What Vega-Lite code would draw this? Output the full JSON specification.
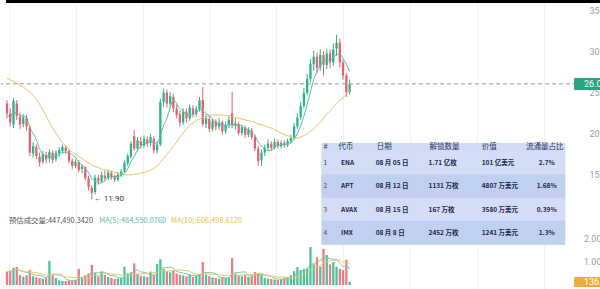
{
"$schema":"https://vega.github.io/schema/vega-lite/v6.json",
"width":583,"height":289,"padding":0,"autosize":{"type":"pad"},"background":"#ffffff",
"config":{"view":{"stroke":null},"axis":{"labelFont":"Roboto"}},
"datasets":{
"candles":[
{"i":0,"o":23.6,"h":24.0,"l":21.8,"c":22.4,"v":580000,"ma20":26.7},
{"i":1,"o":22.4,"h":23.0,"l":20.8,"c":21.3,"v":620000,"ma20":26.5},
{"i":2,"o":21.0,"h":24.3,"l":20.6,"c":23.9,"v":750000,"ma20":26.3},
{"i":3,"o":23.6,"h":24.0,"l":21.6,"c":22.1,"v":780000,"ma20":26.1},
{"i":4,"o":22.0,"h":22.5,"l":20.5,"c":21.0,"v":430000,"ma20":25.8},
{"i":5,"o":21.1,"h":22.3,"l":20.7,"c":21.9,"v":360000,"ma20":25.6},
{"i":6,"o":21.8,"h":22.2,"l":20.3,"c":20.8,"v":420000,"ma20":25.3},
{"i":7,"o":20.7,"h":21.0,"l":17.2,"c":17.6,"v":650000,"ma20":25.0},
{"i":8,"o":17.5,"h":18.9,"l":17.0,"c":18.4,"v":380000,"ma20":24.6},
{"i":9,"o":18.3,"h":18.6,"l":16.8,"c":17.2,"v":340000,"ma20":24.1},
{"i":10,"o":17.1,"h":17.6,"l":15.9,"c":16.4,"v":300000,"ma20":23.5},
{"i":11,"o":16.5,"h":17.8,"l":16.2,"c":17.4,"v":280000,"ma20":22.8},
{"i":12,"o":17.3,"h":17.7,"l":16.3,"c":16.8,"v":330000,"ma20":22.1},
{"i":13,"o":16.9,"h":18.0,"l":16.4,"c":17.7,"v":1040000,"ma20":21.3},
{"i":14,"o":17.6,"h":17.9,"l":16.3,"c":16.7,"v":420000,"ma20":20.6},
{"i":15,"o":16.8,"h":17.9,"l":16.5,"c":17.6,"v":300000,"ma20":20.0},
{"i":16,"o":17.5,"h":18.3,"l":17.1,"c":17.9,"v":200000,"ma20":19.4},
{"i":17,"o":17.8,"h":18.6,"l":17.5,"c":18.3,"v":180000,"ma20":18.8},
{"i":18,"o":18.2,"h":18.5,"l":17.4,"c":17.8,"v":170000,"ma20":18.4},
{"i":19,"o":17.8,"h":18.0,"l":16.3,"c":16.6,"v":200000,"ma20":18.0},
{"i":20,"o":16.6,"h":16.9,"l":15.6,"c":16.0,"v":190000,"ma20":17.7},
{"i":21,"o":16.0,"h":16.8,"l":15.7,"c":16.5,"v":230000,"ma20":17.4},
{"i":22,"o":16.4,"h":16.7,"l":15.2,"c":15.5,"v":700000,"ma20":17.1},
{"i":23,"o":15.6,"h":16.2,"l":15.1,"c":15.9,"v":300000,"ma20":16.9},
{"i":24,"o":15.8,"h":16.0,"l":14.2,"c":14.5,"v":420000,"ma20":16.6},
{"i":25,"o":14.5,"h":14.8,"l":13.0,"c":13.4,"v":500000,"ma20":16.4},
{"i":26,"o":13.3,"h":13.6,"l":11.9,"c":12.7,"v":870000,"ma20":16.1},
{"i":27,"o":12.8,"h":14.9,"l":12.5,"c":14.6,"v":520000,"ma20":15.9},
{"i":28,"o":14.5,"h":14.9,"l":13.7,"c":14.1,"v":380000,"ma20":15.8},
{"i":29,"o":14.1,"h":15.3,"l":13.9,"c":14.9,"v":580000,"ma20":15.6},
{"i":30,"o":14.8,"h":15.4,"l":14.2,"c":14.5,"v":430000,"ma20":15.5},
{"i":31,"o":14.5,"h":15.5,"l":14.3,"c":15.2,"v":350000,"ma20":15.4},
{"i":32,"o":15.1,"h":15.4,"l":14.3,"c":14.6,"v":300000,"ma20":15.3},
{"i":33,"o":14.6,"h":14.9,"l":14.0,"c":14.3,"v":260000,"ma20":15.2},
{"i":34,"o":14.3,"h":15.2,"l":14.1,"c":14.9,"v":280000,"ma20":15.1},
{"i":35,"o":14.9,"h":15.6,"l":14.6,"c":15.3,"v":320000,"ma20":15.0},
{"i":36,"o":15.3,"h":16.7,"l":15.1,"c":16.4,"v":800000,"ma20":14.9},
{"i":37,"o":16.3,"h":17.5,"l":16.0,"c":17.2,"v":500000,"ma20":14.9},
{"i":38,"o":17.1,"h":19.0,"l":16.9,"c":18.7,"v":550000,"ma20":14.9},
{"i":39,"o":19.6,"h":20.4,"l":17.8,"c":18.1,"v":940000,"ma20":15.0},
{"i":40,"o":18.1,"h":19.5,"l":17.8,"c":19.1,"v":480000,"ma20":15.0},
{"i":41,"o":19.0,"h":19.5,"l":18.1,"c":18.5,"v":400000,"ma20":15.1},
{"i":42,"o":18.5,"h":19.7,"l":18.2,"c":19.3,"v":380000,"ma20":15.2},
{"i":43,"o":19.2,"h":19.6,"l":18.3,"c":18.7,"v":350000,"ma20":15.3},
{"i":44,"o":18.8,"h":19.9,"l":18.4,"c":19.5,"v":580000,"ma20":15.5},
{"i":45,"o":19.3,"h":19.6,"l":17.5,"c":17.9,"v":450000,"ma20":15.7},
{"i":46,"o":17.9,"h":19.0,"l":17.5,"c":18.6,"v":910000,"ma20":16.0},
{"i":47,"o":18.6,"h":24.2,"l":18.4,"c":23.8,"v":1120000,"ma20":16.4},
{"i":48,"o":23.8,"h":25.4,"l":23.2,"c":24.9,"v":700000,"ma20":16.9},
{"i":49,"o":24.9,"h":25.3,"l":23.1,"c":23.6,"v":600000,"ma20":17.4},
{"i":50,"o":23.6,"h":25.0,"l":23.0,"c":24.5,"v":550000,"ma20":17.9},
{"i":51,"o":24.4,"h":24.8,"l":22.5,"c":23.0,"v":650000,"ma20":18.4},
{"i":52,"o":23.0,"h":23.5,"l":21.8,"c":22.2,"v":500000,"ma20":18.9},
{"i":53,"o":22.3,"h":22.7,"l":20.8,"c":21.3,"v":450000,"ma20":19.5},
{"i":54,"o":21.3,"h":23.0,"l":21.0,"c":22.6,"v":420000,"ma20":20.0},
{"i":55,"o":22.6,"h":23.0,"l":21.3,"c":21.8,"v":380000,"ma20":20.5},
{"i":56,"o":21.8,"h":23.5,"l":21.5,"c":23.1,"v":460000,"ma20":20.9},
{"i":57,"o":23.0,"h":23.4,"l":21.9,"c":22.3,"v":350000,"ma20":21.2},
{"i":58,"o":22.3,"h":23.3,"l":22.0,"c":22.9,"v":400000,"ma20":21.5},
{"i":59,"o":22.9,"h":24.4,"l":22.6,"c":24.0,"v":480000,"ma20":21.7},
{"i":60,"o":24.0,"h":25.6,"l":20.8,"c":21.1,"v":1000000,"ma20":21.9},
{"i":61,"o":21.1,"h":22.3,"l":20.6,"c":21.8,"v":450000,"ma20":22.0},
{"i":62,"o":21.7,"h":22.0,"l":20.1,"c":20.5,"v":380000,"ma20":22.1},
{"i":63,"o":20.5,"h":21.8,"l":20.2,"c":21.4,"v":330000,"ma20":22.2},
{"i":64,"o":21.4,"h":21.7,"l":20.3,"c":20.8,"v":300000,"ma20":22.2},
{"i":65,"o":20.8,"h":21.8,"l":20.4,"c":21.3,"v":280000,"ma20":22.2},
{"i":66,"o":21.3,"h":21.5,"l":19.8,"c":20.2,"v":320000,"ma20":22.2},
{"i":67,"o":20.2,"h":21.4,"l":19.9,"c":21.0,"v":300000,"ma20":22.1},
{"i":68,"o":21.0,"h":22.0,"l":20.6,"c":21.6,"v":350000,"ma20":22.1},
{"i":69,"o":22.4,"h":25.0,"l":20.6,"c":20.9,"v":1170000,"ma20":22.0},
{"i":70,"o":20.9,"h":21.8,"l":20.4,"c":21.2,"v":500000,"ma20":21.9},
{"i":71,"o":21.1,"h":21.4,"l":19.7,"c":20.0,"v":400000,"ma20":21.8},
{"i":72,"o":20.0,"h":21.0,"l":19.7,"c":20.7,"v":380000,"ma20":21.7},
{"i":73,"o":20.6,"h":20.9,"l":19.4,"c":19.8,"v":430000,"ma20":21.6},
{"i":74,"o":19.8,"h":20.7,"l":19.5,"c":20.4,"v":350000,"ma20":21.5},
{"i":75,"o":20.3,"h":20.6,"l":19.2,"c":19.5,"v":400000,"ma20":21.4},
{"i":76,"o":19.5,"h":19.8,"l":17.8,"c":18.1,"v":570000,"ma20":21.3},
{"i":77,"o":18.1,"h":18.4,"l":16.0,"c":16.6,"v":500000,"ma20":21.1},
{"i":78,"o":16.7,"h":18.0,"l":16.0,"c":17.6,"v":450000,"ma20":21.0},
{"i":79,"o":17.6,"h":18.6,"l":17.2,"c":18.2,"v":300000,"ma20":20.9},
{"i":80,"o":18.2,"h":19.2,"l":17.9,"c":18.7,"v":280000,"ma20":20.7},
{"i":81,"o":18.7,"h":19.0,"l":17.9,"c":18.2,"v":260000,"ma20":20.6},
{"i":82,"o":18.2,"h":19.3,"l":18.0,"c":18.9,"v":240000,"ma20":20.4},
{"i":83,"o":18.9,"h":19.2,"l":18.1,"c":18.4,"v":220000,"ma20":20.2},
{"i":84,"o":18.4,"h":19.1,"l":18.1,"c":18.8,"v":250000,"ma20":20.0},
{"i":85,"o":18.8,"h":19.1,"l":18.2,"c":18.5,"v":300000,"ma20":19.8},
{"i":86,"o":18.5,"h":19.3,"l":18.3,"c":19.0,"v":350000,"ma20":19.7},
{"i":87,"o":19.0,"h":19.8,"l":18.7,"c":19.4,"v":420000,"ma20":19.5},
{"i":88,"o":19.4,"h":21.2,"l":19.2,"c":20.8,"v":600000,"ma20":19.4},
{"i":89,"o":20.8,"h":22.4,"l":20.5,"c":21.9,"v":780000,"ma20":19.4},
{"i":90,"o":21.9,"h":23.8,"l":21.6,"c":23.3,"v":650000,"ma20":19.5},
{"i":91,"o":23.3,"h":25.5,"l":23.0,"c":24.9,"v":700000,"ma20":19.7},
{"i":92,"o":24.9,"h":27.2,"l":24.6,"c":26.6,"v":720000,"ma20":19.9},
{"i":93,"o":26.6,"h":29.0,"l":26.2,"c":28.4,"v":1650000,"ma20":20.2},
{"i":94,"o":28.4,"h":30.0,"l":27.6,"c":29.3,"v":900000,"ma20":20.5},
{"i":95,"o":29.3,"h":29.8,"l":27.3,"c":28.0,"v":1200000,"ma20":20.9},
{"i":96,"o":28.0,"h":30.2,"l":27.6,"c":29.5,"v":800000,"ma20":21.3},
{"i":97,"o":29.5,"h":30.0,"l":27.0,"c":28.3,"v":1570000,"ma20":21.8},
{"i":98,"o":28.3,"h":30.3,"l":27.8,"c":29.7,"v":1300000,"ma20":22.3},
{"i":99,"o":29.7,"h":30.2,"l":27.9,"c":28.6,"v":900000,"ma20":22.7},
{"i":100,"o":28.6,"h":30.9,"l":28.2,"c":30.2,"v":1000000,"ma20":23.2},
{"i":101,"o":30.3,"h":32.0,"l":29.4,"c":31.0,"v":800000,"ma20":23.6},
{"i":102,"o":31.0,"h":31.5,"l":28.0,"c":28.6,"v":700000,"ma20":24.0},
{"i":103,"o":28.6,"h":29.0,"l":26.5,"c":27.0,"v":650000,"ma20":24.3},
{"i":104,"o":27.0,"h":27.3,"l":24.4,"c":25.0,"v":1100000,"ma20":24.7},
{"i":105,"o":25.0,"h":26.5,"l":24.7,"c":26.0,"v":136900,"ma20":25.2}
],
"table":[
{"row":1,"token":"ENA","date":"08 月 05 日","amount":"1.71 亿枚","value":"101 亿美元","pct":"2.7%"},
{"row":2,"token":"APT","date":"08 月 12 日","amount":"1131 万枚","value":"4807 万美元","pct":"1.68%"},
{"row":3,"token":"AVAX","date":"08 月 15 日","amount":"167 万枚","value":"3580 万美元","pct":"0.39%"},
{"row":4,"token":"IMX","date":"08 月 8 日","amount":"2452 万枚","value":"1241 万美元","pct":"1.3%"}
],
"last":[{"price":26.0,"vol":136900,"volLabel":"136.90K"}],
"vlabels":[{"v":1000000,"t":"1.00M"},{"v":2000000,"t":"2.00M"}],
"low":[{"i":26,"low":11.9,"label":"← 11.90"}]
},
"layer":[
{"data":{"name":"candles"},
 "layer":[
  {"mark":{"type":"rule","strokeWidth":1},
   "encoding":{
    "x":{"field":"i","type":"quantitative","scale":{"domain":[-0.3,175.3],"nice":false,"zero":false},"axis":{"values":[0.6,21.1,41.6,62.1,82.5,103,123.5,144,164.5],"grid":true,"gridColor":"#f2f2f2","gridWidth":1,"labels":false,"ticks":false,"domain":false,"title":null}},
    "y":{"field":"l","type":"quantitative","scale":{"domain":[0.976,36.22],"nice":false,"zero":false},"axis":{"orient":"right","values":[15,20,25,30,35],"format":".2f","labelColor":"#9e9e9e","labelFontSize":9,"labelPadding":5,"ticks":false,"domain":false,"grid":false,"title":null}},
    "y2":{"field":"h"},
    "color":{"condition":{"test":"datum.c >= datum.o","value":"#2db389"},"value":"#e0636d"}}},
  {"mark":{"type":"bar","size":2.3},
   "encoding":{
    "x":{"field":"i","type":"quantitative"},
    "y":{"field":"o","type":"quantitative"},
    "y2":{"field":"c"},
    "color":{"condition":{"test":"datum.c >= datum.o","value":"#2db389"},"value":"#e0636d"}}},
  {"mark":{"type":"line","color":"#e6c36a","strokeWidth":1,"interpolate":"monotone"},
   "encoding":{"x":{"field":"i","type":"quantitative"},"y":{"field":"ma20","type":"quantitative"}}},
  {"transform":[{"window":[{"op":"mean","field":"c","as":"ma5"}],"frame":[-4,0],"sort":[{"field":"i"}]}],
   "mark":{"type":"line","color":"#55c0ae","strokeWidth":1,"interpolate":"monotone"},
   "encoding":{"x":{"field":"i","type":"quantitative"},"y":{"field":"ma5","type":"quantitative"}}},
  {"data":{"name":"last"},"mark":{"type":"rule","strokeDash":[4,3],"color":"#9a9a9a","strokeWidth":1},
   "encoding":{"y":{"field":"price","type":"quantitative"}}},
  {"data":{"name":"last"},"mark":{"type":"rect","color":"#27a57d"},
   "encoding":{"x":{"datum":173.8,"type":"quantitative"},"x2":{"datum":190},"y":{"datum":26.71,"type":"quantitative"},"y2":{"datum":25.24}}},
  {"data":{"name":"last"},"mark":{"type":"text","align":"left","baseline":"middle","color":"#ffffff","fontSize":9,"font":"Roboto"},
   "encoding":{"x":{"datum":176.8,"type":"quantitative"},"y":{"field":"price","type":"quantitative"},"text":{"field":"price","type":"quantitative","format":".2f"}}},
  {"data":{"name":"last"},"mark":{"type":"rect","color":"#000000"},
   "encoding":{"x":{"datum":-0.3,"type":"quantitative"},"x2":{"datum":190},"y":{"datum":36.22,"type":"quantitative"},"y2":{"datum":35.86}}},
  {"data":{"name":"low"},"mark":{"type":"text","align":"left","baseline":"middle","dx":2,"fontSize":8,"color":"#333333","font":"Roboto"},
   "encoding":{"x":{"field":"i","type":"quantitative"},"y":{"field":"low","type":"quantitative"},"text":{"field":"label"}}},
  {"data":{"name":"last"},"mark":{"type":"text","align":"left","baseline":"middle","fontSize":7.4,"color":"#555555","font":"Noto Sans CJK SC"},
   "encoding":{"x":{"datum":0.6,"type":"quantitative"},"y":{"datum":9.27,"type":"quantitative"},"text":{"value":"预估成交量:447,490.3420"}}},
  {"data":{"name":"last"},"mark":{"type":"text","align":"left","baseline":"middle","fontSize":7.4,"color":"#5cc0a9","font":"Noto Sans CJK SC"},
   "encoding":{"x":{"datum":28.3,"type":"quantitative"},"y":{"datum":9.27,"type":"quantitative"},"text":{"value":"MA(5):484,550.0760"}}},
  {"data":{"name":"last"},"mark":{"type":"text","align":"left","baseline":"middle","fontSize":7.4,"color":"#e8bd4a","font":"Noto Sans CJK SC"},
   "encoding":{"x":{"datum":50.3,"type":"quantitative"},"y":{"datum":9.27,"type":"quantitative"},"text":{"value":"MA(10):606,498.6120"}}}
 ]},
{"data":{"name":"candles"},
 "layer":[
  {"mark":{"type":"bar","size":2.3,"opacity":0.9},
   "encoding":{
    "x":{"field":"i","type":"quantitative"},
    "y":{"field":"v","type":"quantitative","scale":{"domain":[-173913,12391304],"nice":false,"zero":false},"axis":null},
    "y2":{"datum":0},
    "color":{"condition":{"test":"datum.c >= datum.o","value":"#3bb993"},"value":"#e4707a"}}},
  {"transform":[{"window":[{"op":"mean","field":"v","as":"vma5"}],"frame":[-4,0],"sort":[{"field":"i"}]}],
   "mark":{"type":"line","color":"#7cc9a0","strokeWidth":1,"interpolate":"monotone"},
   "encoding":{"x":{"field":"i","type":"quantitative"},"y":{"field":"vma5","type":"quantitative","axis":null}}},
  {"transform":[{"window":[{"op":"mean","field":"v","as":"vma10"}],"frame":[-9,0],"sort":[{"field":"i"}]}],
   "mark":{"type":"line","color":"#e6c66e","strokeWidth":1,"interpolate":"monotone"},
   "encoding":{"x":{"field":"i","type":"quantitative"},"y":{"field":"vma10","type":"quantitative","axis":null}}},
  {"data":{"name":"vlabels"},"mark":{"type":"text","align":"left","baseline":"middle","fontSize":9,"color":"#9e9e9e","font":"Roboto"},
   "encoding":{"x":{"datum":176.8,"type":"quantitative"},"y":{"field":"v","type":"quantitative","axis":null},"text":{"field":"t"}}},
  {"data":{"name":"last"},"mark":{"type":"rect","color":"#f2a93b"},
   "encoding":{"x":{"datum":173.8,"type":"quantitative"},"x2":{"datum":190},"y":{"datum":348000,"type":"quantitative","axis":null},"y2":{"datum":-87000}}},
  {"data":{"name":"last"},"mark":{"type":"text","align":"left","baseline":"middle","color":"#ffffff","fontSize":9,"font":"Roboto"},
   "encoding":{"x":{"datum":176.8,"type":"quantitative"},"y":{"field":"vol","type":"quantitative","axis":null},"text":{"field":"volLabel"}}}
 ]},
{"data":{"name":"table"},
 "layer":[
  {"data":{"name":"last"},"mark":{"type":"rect","color":"#d0dbf4"},
   "encoding":{"x":{"datum":96.4,"type":"quantitative"},"x2":{"datum":171.1},
    "y":{"datum":0.125,"type":"quantitative","scale":{"domain":[-5.833,6.208],"reverse":true,"nice":false,"zero":false},"axis":null},"y2":{"datum":4.5}}},
  {"mark":{"type":"bar","orient":"horizontal","size":24},
   "encoding":{"x":{"datum":96.4,"type":"quantitative"},"x2":{"datum":171.1},
    "y":{"field":"row","type":"quantitative","axis":null},
    "color":{"field":"row","type":"ordinal","scale":{"domain":[1,2,3,4],"range":["#d3ddf5","#c1cff0","#d3ddf5","#c1cff0"]},"legend":null}}},
  {"data":{"name":"last"},"mark":{"type":"text","align":"left","baseline":"middle","fontSize":7.5,"color":"#2b3a67","font":"Noto Sans CJK SC"},
   "encoding":{"x":{"datum":97.0,"type":"quantitative"},"y":{"datum":0.29,"type":"quantitative","axis":null},"text":{"value":"#"}}},
  {"data":{"name":"last"},"mark":{"type":"text","align":"left","baseline":"middle","fontSize":7.5,"color":"#2b3a67","font":"Noto Sans CJK SC"},
   "encoding":{"x":{"datum":101.5,"type":"quantitative"},"y":{"datum":0.29,"type":"quantitative","axis":null},"text":{"value":"代币"}}},
  {"data":{"name":"last"},"mark":{"type":"text","align":"left","baseline":"middle","fontSize":7.5,"color":"#2b3a67","font":"Noto Sans CJK SC"},
   "encoding":{"x":{"datum":113.3,"type":"quantitative"},"y":{"datum":0.29,"type":"quantitative","axis":null},"text":{"value":"日期"}}},
  {"data":{"name":"last"},"mark":{"type":"text","align":"left","baseline":"middle","fontSize":7.5,"color":"#2b3a67","font":"Noto Sans CJK SC"},
   "encoding":{"x":{"datum":129.5,"type":"quantitative"},"y":{"datum":0.29,"type":"quantitative","axis":null},"text":{"value":"解锁数量"}}},
  {"data":{"name":"last"},"mark":{"type":"text","align":"left","baseline":"middle","fontSize":7.5,"color":"#2b3a67","font":"Noto Sans CJK SC"},
   "encoding":{"x":{"datum":145.5,"type":"quantitative"},"y":{"datum":0.29,"type":"quantitative","axis":null},"text":{"value":"价值"}}},
  {"data":{"name":"last"},"mark":{"type":"text","align":"center","baseline":"middle","fontSize":7.5,"color":"#2b3a67","font":"Noto Sans CJK SC"},
   "encoding":{"x":{"datum":164.8,"type":"quantitative"},"y":{"datum":0.29,"type":"quantitative","axis":null},"text":{"value":"流通量占比"}}},
  {"mark":{"type":"text","align":"left","baseline":"middle","fontSize":6.5,"color":"#3a4a75","font":"Noto Sans CJK SC"},
   "encoding":{"x":{"datum":97.0,"type":"quantitative"},"y":{"field":"row","type":"quantitative","axis":null},"text":{"field":"row"}}},
  {"mark":{"type":"text","align":"left","baseline":"middle","fontSize":6.5,"fontWeight":"bold","color":"#1b2850","font":"Noto Sans CJK SC"},
   "encoding":{"x":{"datum":102.4,"type":"quantitative"},"y":{"field":"row","type":"quantitative","axis":null},"text":{"field":"token"}}},
  {"mark":{"type":"text","align":"left","baseline":"middle","fontSize":6.5,"fontWeight":"bold","color":"#1b2850","font":"Noto Sans CJK SC"},
   "encoding":{"x":{"datum":113.0,"type":"quantitative"},"y":{"field":"row","type":"quantitative","axis":null},"text":{"field":"date"}}},
  {"mark":{"type":"text","align":"left","baseline":"middle","fontSize":6.5,"fontWeight":"bold","color":"#1b2850","font":"Noto Sans CJK SC"},
   "encoding":{"x":{"datum":129.2,"type":"quantitative"},"y":{"field":"row","type":"quantitative","axis":null},"text":{"field":"amount"}}},
  {"mark":{"type":"text","align":"left","baseline":"middle","fontSize":6.5,"fontWeight":"bold","color":"#1b2850","font":"Noto Sans CJK SC"},
   "encoding":{"x":{"datum":145.5,"type":"quantitative"},"y":{"field":"row","type":"quantitative","axis":null},"text":{"field":"value"}}},
  {"mark":{"type":"text","align":"center","baseline":"middle","fontSize":6.5,"fontWeight":"bold","color":"#1b2850","font":"Noto Sans CJK SC"},
   "encoding":{"x":{"datum":165.4,"type":"quantitative"},"y":{"field":"row","type":"quantitative","axis":null},"text":{"field":"pct"}}}
 ]}
],
"resolve":{"scale":{"y":"independent"},"axis":{"y":"independent"}}
}
